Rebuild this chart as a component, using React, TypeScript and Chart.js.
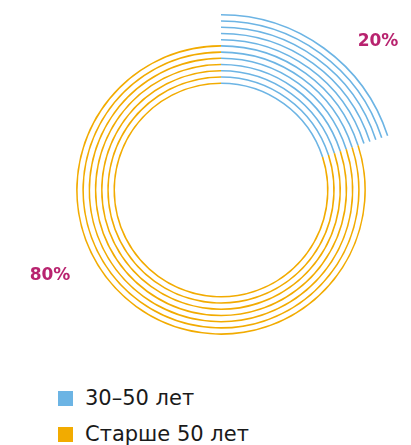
import React, { useEffect, useRef } from "react";
import { Chart, registerables } from "chart.js";

Chart.register(...registerables);

// ---- data ----
const categories = ["30–50 лет", "Старше 50 лет"];
const shares = [20, 80];
const colors = ["#6cb4e4", "#f2ab00"];
const ringCount = 12; // concentric rings, outermost first
const ringsWithBoth = 7; // innermost rings that show both groups

const TRANSPARENT = "rgba(0,0,0,0)";
const LINE_WEIGHT = 1.6;
const GAP_WEIGHT = 4.7;
const labelColor = "#b8236f";
const labelOffsets: [number, number][] = [
  [157, -148],
  [-171, 86],
];

function buildDatasets() {
  const ds: any[] = [];
  for (let i = 0; i < ringCount; i++) {
    const both = i >= ringCount - ringsWithBoth;
    ds.push({
      data: shares,
      backgroundColor: [colors[0], both ? colors[1] : TRANSPARENT],
      borderWidth: 0,
      weight: LINE_WEIGHT,
    });
    if (i < ringCount - 1) {
      ds.push({
        data: shares,
        backgroundColor: [TRANSPARENT, TRANSPARENT],
        borderWidth: 0,
        weight: GAP_WEIGHT,
      });
    }
  }
  return ds;
}

const labelPlugin = {
  id: "pctLabels",
  afterDraw(chart: any) {
    const arc = chart.getDatasetMeta(0).data[0];
    if (!arc) return;
    const ctx = chart.ctx;
    ctx.save();
    ctx.font = "bold 17px 'DejaVu Sans'";
    ctx.fillStyle = labelColor;
    ctx.textAlign = "center";
    ctx.textBaseline = "middle";
    shares.forEach((v, i) => {
      ctx.fillText(`${v}%`, arc.x + labelOffsets[i][0], arc.y + labelOffsets[i][1]);
    });
    ctx.restore();
  },
};

export default function App() {
  const ref = useRef<HTMLCanvasElement>(null);
  useEffect(() => {
    if (!ref.current) return;
    const chart = new Chart(ref.current, {
      type: "doughnut",
      data: { labels: categories, datasets: buildDatasets() },
      options: {
        animation: false,
        responsive: true,
        maintainAspectRatio: false,
        events: [],
        cutout: 106,
        layout: { padding: { left: 37, right: 6, top: 6, bottom: 12 } },
        plugins: { legend: { display: false }, tooltip: { enabled: false } },
      },
      plugins: [labelPlugin],
    });
    return () => chart.destroy();
  }, []);

  return (
    <div style={{ position: "relative", width: 395, height: 437, fontFamily: "'DejaVu Sans', sans-serif" }}>
      <div style={{ position: "absolute", left: 0, top: 0, width: 395, height: 370 }}>
        <canvas ref={ref} />
      </div>
      <div style={{ position: "absolute", left: 50, top: 372 }}>
        {categories.map((c, i) => (
          <div key={c} style={{ display: "flex", alignItems: "center", height: 36 }}>
            <span style={{ display: "inline-block", width: 15, height: 15, background: colors[i], marginRight: 12, flexShrink: 0 }} />
            <span style={{ fontSize: 21, lineHeight: "24px", color: "#1a1a1a", whiteSpace: "nowrap" }}>{c}</span>
          </div>
        ))}
      </div>
    </div>
  );
}
